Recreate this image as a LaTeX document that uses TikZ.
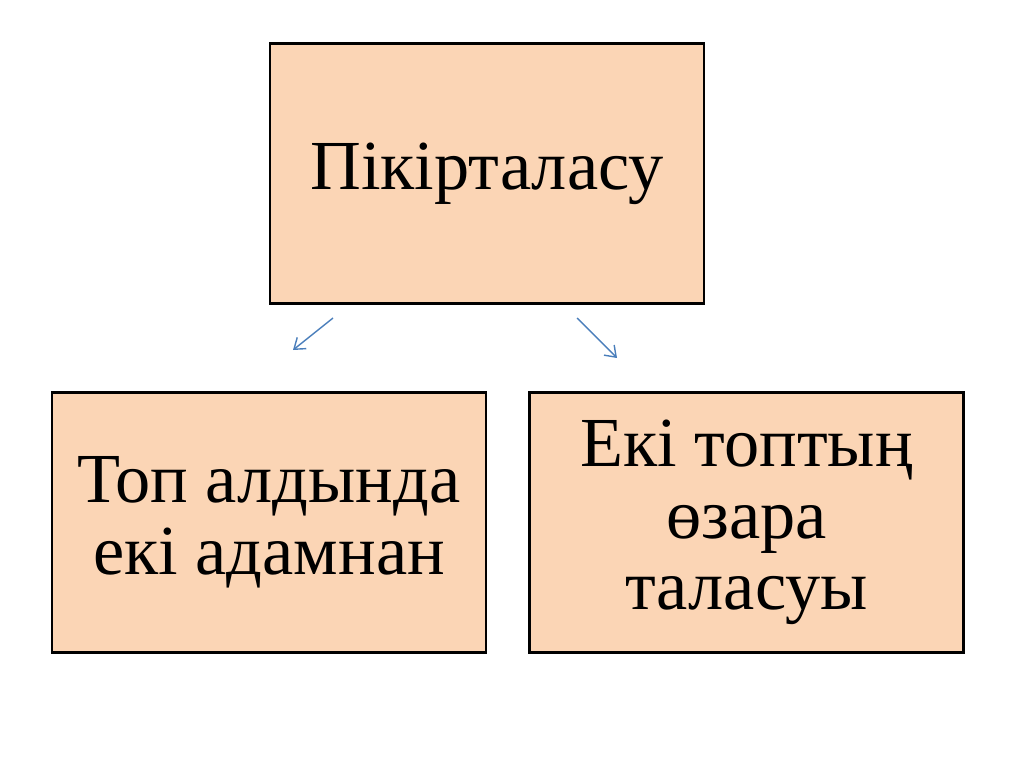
\documentclass[tikz,border=0pt]{standalone}
\usepackage{fontspec}
\setmainfont{Liberation Serif}
\usetikzlibrary{arrows.meta}
\definecolor{boxfill}{HTML}{FBD5B5}
\definecolor{arrowblue}{HTML}{4A7EBB}

\begin{document}
\begin{tikzpicture}[x=0.025cm, y=-0.025cm, >={Straight Barb[length=2.5mm,width=3.6mm]},
  every node/.style={font=\fontsize{50}{51}\selectfont},
  topic/.style={draw, line width=1.6pt, fill=boxfill, align=center, minimum width=10.85cm, minimum height=6.5cm, inner sep=0pt}]
  \useasboundingbox (0,0) rectangle (1024,767);
  \node[topic] (debate) at (487,173.5) {Пікірталасу};
  \node[topic] (pair) at (269,522.5) {Топ алдында\\екі адамнан};
  \node[topic] (groups) at (746.5,522.5) {Екі топтың\\өзара\\таласуы};
  % arrows between the boxes
  \coordinate (l1) at (333,318);
  \coordinate (l2) at (293,350);
  \coordinate (r1) at (577,318);
  \coordinate (r2) at (617,358);
  \draw[->, arrowblue, line width=1pt] (l1) -- (l2);
  \draw[->, arrowblue, line width=1pt] (r1) -- (r2);
\end{tikzpicture}
\end{document}
